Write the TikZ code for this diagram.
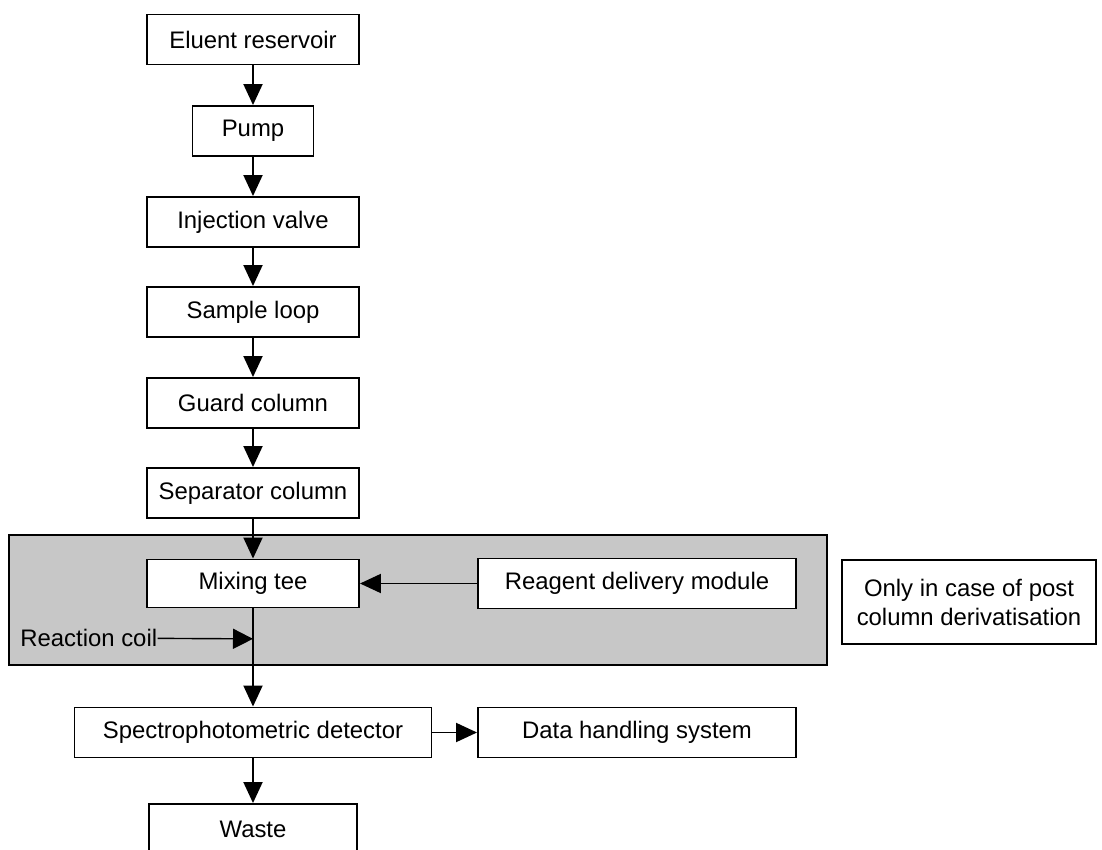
\documentclass[tikz,border=0pt]{standalone}
\usepackage{fontspec}
\setmainfont{Liberation Sans}
\usetikzlibrary{arrows.meta, positioning, calc}

\begin{document}
\begin{tikzpicture}[
          font=\fontsize{13.6}{16.5}\selectfont,
          flownode/.style={rectangle, draw=black, fill=white, line width=1.1pt, align=center, minimum height=1.0cm, inner sep=2pt},
          flowarrow/.style={-{Triangle[length=0.42cm, width=0.38cm]}, line width=1.1pt}
        ]
        \useasboundingbox (0, 0) rectangle (22.04, -17.0);

        % ----------------------------------------------------
        % VÙNG TÔ XÁM: POST COLUMN DERIVATISATION
        % ----------------------------------------------------
        \draw[line width=1.1pt, fill=black!22] (0.18, -10.70) rectangle (16.54, -13.30);

        % ----------------------------------------------------
        % DÒNG CHẢY CHÍNH (cột giữa)
        % ----------------------------------------------------
        \node (eluent) at (5.06, -0.79) [flownode, minimum width=4.24cm] {Eluent reservoir};
        \node (pump) at (5.06, -2.62) [flownode, minimum width=2.42cm] {Pump};
        \node (valve) at (5.06, -4.44) [flownode, minimum width=4.24cm] {Injection valve};
        \node (loop) at (5.06, -6.24) [flownode, minimum width=4.24cm] {Sample loop};
        \node (guard) at (5.06, -8.06) [flownode, minimum width=4.24cm] {Guard column};
        \node (separator) at (5.06, -9.86) [flownode, minimum width=4.24cm] {Separator column};

        \node (mix) at (5.06, -11.67) [flownode, minimum width=4.24cm, minimum height=0.96cm] {Mixing tee};
        \node (reagent) at (12.74, -11.67) [flownode, minimum width=6.36cm] {Reagent delivery module};
        \node (onlynote) at (19.38, -12.04) [flownode, minimum width=5.08cm, minimum height=1.68cm] {Only in case of post\\column derivatisation};
        \node (coil) at (0.4, -12.76) [anchor=west, inner sep=0pt] {Reaction coil};

        \node (spectro) at (5.06, -14.65) [flownode, minimum width=7.14cm] {Spectrophotometric detector};
        \node (datasys) at (12.74, -14.65) [flownode, minimum width=6.36cm] {Data handling system};
        \node (waste) at (5.06, -16.58) [flownode, minimum width=4.16cm] {Waste};

        % ----------------------------------------------------
        % MŨI TÊN KẾT NỐI
        % ----------------------------------------------------
        \draw[flowarrow] (eluent) -- (pump);
        \draw[flowarrow] (pump) -- (valve);
        \draw[flowarrow] (valve) -- (loop);
        \draw[flowarrow] (loop) -- (guard);
        \draw[flowarrow] (guard) -- (separator);
        \draw[flowarrow] (separator) -- (mix);
        \draw[flowarrow] (reagent) -- (mix);
        \draw[flowarrow] (mix) -- (spectro);
        \coordinate (coiltip) at ($(mix.south)!0.31!(spectro.north)$);
        \draw[-{Triangle[length=0.4cm, width=0.4cm]}, line width=0.8pt] (coil) -- (coiltip);
        \draw[flowarrow] (spectro) -- (datasys);
        \draw[flowarrow] (spectro) -- (waste);
      \end{tikzpicture}
\end{document}
